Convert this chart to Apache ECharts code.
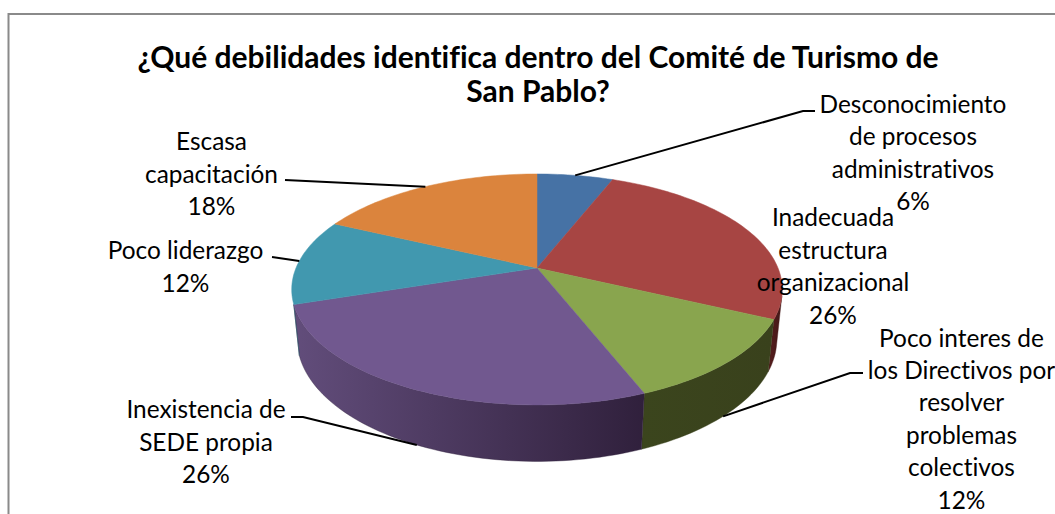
<!DOCTYPE html>
<html lang="es">
<head>
<meta charset="utf-8">
<style>
  html, body { margin: 0; padding: 0; background: #fff; overflow: hidden; }
  #chart { width: 1055px; height: 514px; }
  #chart text { font-variant-ligatures: none; }
</style>
<script src="https://cdn.jsdelivr.net/npm/echarts@6/dist/echarts.min.js"></script>
</head>
<body>
<div id="chart"></div>
<script>
// Survey answers, in slice order clockwise from twelve o'clock
const titleLines = ['¿Qué debilidades identifica dentro del Comité de Turismo de', 'San Pablo?'];
const categories = [
  'Desconocimiento\nde procesos\nadministrativos',
  'Inadecuada\nestructura\norganizacional',
  'Poco interes de\nlos Directivos por\nresolver\nproblemas\ncolectivos',
  'Inexistencia de\nSEDE propia',
  'Poco liderazgo',
  'Escasa\ncapacitación'
];
const shares = [6, 26, 12, 26, 12, 18];

// Colours of the upper face and of the rim (left and right end of the rim shading)
const faceColors = ['#4672a5', '#a74543', '#89a54e', '#71588f', '#4198af', '#db843d'];
const rimColors = [
  ['#2a4365', '#2a4365'],
  ['#561d1d', '#431818'],
  ['#3b451d', '#39411c'],
  ['#624d7b', '#30203c'],
  ['#27596a', '#27596a'],
  ['#84501f', '#84501f']
];

// Perspective of the tilted disc
const view = { cx: 537, cy: 268, a: 241, b: 111.5, depth: 50.2, k: 0.186, m: 0.022 };
// Angular range of the rim that faces the viewer, in degrees clockwise from the top
const rimFrom = 104;
const rimTo = 252;

// Label placement: block centre, elbow points of the leader, and whether it ends on the rim
const labelCentres = [[913, 152], [833, 265.5], [961.5, 418], [206, 441], [185.5, 266], [211.5, 173]];
const leaderRoutes = [
  [[803, 111], [815, 111]],
  null,
  [[850, 373], [863, 373]],
  [[303, 417], [291, 417]],
  [[272, 257]],
  [[285, 180]]
];
const leaderOnRim = [false, false, true, true, false, false];

const total = shares.reduce((s, v) => s + v, 0);
const startAngles = shares.map((_, i) =>
  shares.slice(0, i).reduce((s, v) => s + v, 0) / total * 360);

function project(deg, z, r) {
  const t = deg * Math.PI / 180;
  const radius = r === undefined ? 1 : r;
  const x = Math.sin(t) * radius;
  const y = Math.cos(t) * radius;
  const w = 1 + view.k * y + view.m * z;
  return [view.cx + view.a * x / w, view.cy + (-view.b * y + view.depth * z) / w];
}

function arc(from, to, z) {
  const steps = Math.max(2, Math.ceil(Math.abs(to - from) / 1.5));
  const pts = [];
  for (let i = 0; i <= steps; i++) pts.push(project(from + (to - from) * i / steps, z));
  return pts;
}

function sliceRange(i) {
  return [startAngles[i], startAngles[i] + shares[i] / total * 360];
}

function renderRim(params) {
  const i = params.dataIndex;
  const range = sliceRange(i);
  const from = Math.max(range[0], rimFrom);
  const to = Math.min(range[1], rimTo);
  if (from >= to) return null;
  const points = arc(from, to, 0).concat(arc(to, from, 1));
  return {
    type: 'polygon',
    shape: { points },
    style: {
      fill: new echarts.graphic.LinearGradient(1, 0, 0, 0, [
        { offset: 0, color: rimColors[i][1] },
        { offset: 1, color: rimColors[i][0] }
      ]),
      stroke: rimColors[i][1],
      lineWidth: 0.4
    }
  };
}

function renderFace(params) {
  const i = params.dataIndex;
  const range = sliceRange(i);
  const points = [project(0, 0, 0)].concat(arc(range[0], range[1], 0));
  return {
    type: 'polygon',
    shape: { points },
    style: { fill: faceColors[i], stroke: faceColors[i], lineWidth: 0.5 }
  };
}

function renderLabel(params) {
  const i = params.dataIndex;
  const range = sliceRange(i);
  const children = [];
  if (leaderRoutes[i]) {
    const anchor = project((range[0] + range[1]) / 2, leaderOnRim[i] ? 1 : 0);
    children.push({
      type: 'polyline',
      shape: { points: [anchor].concat(leaderRoutes[i]) },
      style: { fill: null, stroke: '#000', lineWidth: 2 }
    });
  }
  children.push({
    type: 'text',
    style: {
      text: categories[i] + '\n' + shares[i] + '%',
      x: labelCentres[i][0],
      y: labelCentres[i][1],
      align: 'center',
      verticalAlign: 'middle',
      fontFamily: 'Lato',
      fontSize: 24.4,
      lineHeight: 32.4,
      fill: '#000'
    }
  });
  return { type: 'group', children };
}

const chart = echarts.init(document.getElementById('chart'), null, { renderer: 'svg' });
const rows = shares.map((v, i) => ({ name: categories[i], value: v }));
const customSeries = (render, z) => ({
  type: 'custom',
  coordinateSystem: 'none',
  renderItem: render,
  data: rows,
  z,
  silent: true,
  animation: false
});

chart.setOption({
  backgroundColor: '#fff',
  animation: false,
  title: {
    text: titleLines.join('\n'),
    left: 533,
    top: 34,
    textAlign: 'center',
    textStyle: { fontFamily: 'Lato', fontWeight: 'bold', fontSize: 30, lineHeight: 34, color: '#000' }
  },
  graphic: [{
    type: 'polyline',
    shape: { points: [[8.5, 514], [8.5, 14], [1055, 14]] },
    style: { fill: null, stroke: '#8a8a8a', lineWidth: 2 }
  }],
  series: [customSeries(renderRim, 2), customSeries(renderFace, 3), customSeries(renderLabel, 4)]
});
</script>
</body>
</html>
